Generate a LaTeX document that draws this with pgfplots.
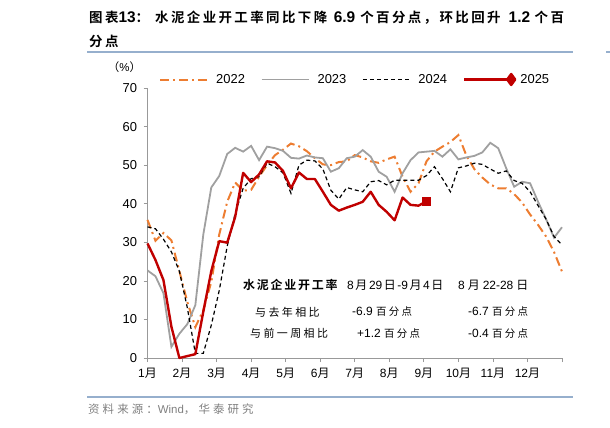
\documentclass[border=0pt]{standalone}
\usepackage{fontspec}
\setmainfont{Liberation Sans}
\newfontfamily\cjk{Noto Sans CJK SC}[LetterSpace=15,BoldFont={Noto Sans CJK SC Bold}]
\newfontfamily\cjkt{Noto Sans CJK SC}[LetterSpace=18,BoldFont={Noto Sans CJK SC Bold}]
\newfontfamily\cjkw{Noto Sans CJK SC}[LetterSpace=22,BoldFont={Noto Sans CJK SC Bold}]
\newfontfamily\cjks{Noto Sans CJK SC}[LetterSpace=27]
\newcommand\C[1]{{\cjk #1}}
\newcommand\T[1]{{\cjkt #1}}
\newcommand\W[1]{{\cjkw #1}}
\newcommand\TL[1]{{\fontsize{15.5}{18}\selectfont\bfseries #1}}
\usepackage{pgfplots}
\pgfplotsset{compat=1.18}
\definecolor{cOra}{RGB}{237,125,49}
\definecolor{cGry}{RGB}{160,160,160}
\definecolor{cRed}{RGB}{192,0,0}
\definecolor{cRule}{RGB}{150,175,205}
\definecolor{cSrc}{RGB}{128,128,128}
\pgfplotsset{redleg/.style={legend image code/.code={\draw[##1] (0bp,0bp) -- (47bp,0bp);
    \fill[cRed] (47bp,5.5bp) -- (51bp,0bp) -- (47bp,-5.5bp) -- (43bp,0bp) -- cycle;
    \path (53bp,0bp);}}}

\pgfplotstableread{
w v
0 35.8
1 30.4
2 32.4
3 30.5
4 22.5
5 14.5
6 8.0
7 12.4
8 19.7
9 32.0
10 40.5
11 45.5
12 43.4
13 43.6
14 47.0
15 50.0
16 52.6
17 54.0
18 55.6
19 54.9
20 53.6
21 51.8
22 50.2
23 50.0
24 50.8
25 51.0
26 52.6
27 52.0
28 51.0
29 50.6
30 51.5
31 52.2
32 47.0
33 43.1
34 45.3
35 51.0
36 53.5
37 54.8
38 56.0
39 57.8
40 52.5
41 49.0
42 46.8
43 45.0
44 44.0
45 44.0
46 42.5
47 40.3
48 37.2
49 34.5
50 31.5
51 27.5
52 22.4
}\dataA

\pgfplotstableread{
w v
0 22.7
1 21.2
2 16.8
3 2.9
4 6.3
5 8.8
6 13.7
7 32.0
8 44.2
9 47.2
10 52.9
11 54.5
12 53.5
13 55.0
14 51.3
15 54.8
16 54.4
17 53.7
18 51.9
19 51.7
20 52.5
21 52.0
22 51.8
23 48.3
24 49.2
25 51.8
26 52.2
27 53.9
28 52.2
29 48.3
30 47.0
31 43.1
32 47.9
33 51.3
34 53.3
35 53.5
36 53.7
37 52.2
38 54.1
39 51.5
40 52.0
41 52.4
42 53.3
43 55.8
44 54.4
45 49.2
46 44.4
47 45.7
48 45.3
49 40.5
50 36.0
51 31.2
52 33.9
}\dataB

\pgfplotstableread{
w v
0 34.0
1 33.5
2 30.8
3 27.5
4 22.5
5 13.0
6 1.2
7 1.2
8 8.5
9 17.5
10 29.0
11 37.5
12 44.0
13 46.5
14 47.0
15 50.5
16 49.6
17 48.0
18 42.7
19 50.0
20 51.3
21 51.1
22 49.0
23 43.5
24 41.2
25 44.2
26 43.6
27 43.1
28 45.7
29 46.0
30 44.9
31 46.1
32 46.1
33 46.1
34 46.1
35 47.3
36 49.6
37 46.5
38 43.1
39 49.3
40 49.8
41 50.5
42 50.2
43 49.0
44 47.9
45 48.5
46 46.0
47 45.3
48 43.1
49 39.5
50 36.0
51 31.5
52 29.3
}\dataC

\pgfplotstableread{
w v
0 29.7
1 25.4
2 20.2
3 8.1
4 0.0
5 0.5
6 1.0
7 12.0
8 22.5
9 30.3
10 29.9
11 36.6
12 48.0
13 45.6
14 47.6
15 51.0
16 50.7
17 48.5
18 44.0
19 48.1
20 46.4
21 46.4
22 43.1
23 39.7
24 38.2
25 39.0
26 39.7
27 40.5
28 43.1
29 39.7
30 37.9
31 35.7
32 41.6
33 39.7
34 39.5
35 40.6
}\dataD

\begin{document}
\begin{tikzpicture}[x=1bp,y=1bp]
\useasboundingbox (0,0) rectangle (610,427);
% title
\node[anchor=base west, inner sep=0, font=\fontsize{13.5}{16}\selectfont\bfseries] at (89,404.5)
  {\T{图表}\TL{13}\T{：}\hspace{6bp}\T{水泥企业开工率同比下降}\hspace{6.5bp}\TL{6.9}\hspace{5bp}\T{个百分点，环比回升}\hspace{8bp}\TL{1.2}\hspace{4.5bp}\T{个百}};
\node[anchor=base west, inner sep=0, font=\fontsize{13.5}{16}\selectfont\bfseries] at (89,380.5) {\T{分点}};
\draw[cRule, line width=1.5bp] (87,375) -- (573,375);
\draw[cRule, line width=1.5bp] (606,375) -- (610,375);
\draw[cRule, line width=1.5bp] (87,30) -- (573,30);
% unit
\node[anchor=center, inner sep=0, font=\fontsize{11.5}{14}\selectfont] at (124.5,360) {\C{（}\%\C{）}};
% source
\node[anchor=west, inner sep=0, font=\fontsize{11.5}{13}\selectfont, text=cSrc] at (88,18) {{\cjks 资料来源：}Wind{\cjks ，华泰研究}};

\begin{axis}[
  at={(147.5bp,69bp)}, anchor=south west,
  scale only axis, width=414.5bp, height=270bp,
  xmin=0, xmax=52, ymin=0, ymax=70,
  axis x line*=bottom, axis y line*=left,
  axis line style={draw=gray!80, line width=0.7bp, -},
  tick style={draw=gray!80, line width=0.7bp},
  tick align=outside, major tick length=4bp,
  ytick={0,10,...,70},
  xtick={0,4.3333,8.6667,13,17.3333,21.6667,26,30.3333,34.6667,39,43.3333,47.6667,52},
  xticklabels={1\C{月},2\C{月},3\C{月},4\C{月},5\C{月},6\C{月},7\C{月},8\C{月},9\C{月},10\C{月},11\C{月},12\C{月},{}},
  /pgf/number format/assume math mode=true,
  xticklabel style={font=\fontsize{12}{14}\selectfont, text=black, yshift=-3bp},
  yticklabel style={font=\fontsize{13}{15}\selectfont, text=black, xshift=-3bp},
  clip=false,
  legend columns=4,
  legend style={at={(0.0277,1.0315)}, anchor=west, draw=none, fill=none, inner sep=0pt,
    font=\fontsize{13}{15}\selectfont,
    /tikz/every even column/.append style={column sep=13.8bp}},
  legend image code/.code={\draw[#1] (0bp,0bp) -- (47bp,0bp); \path (53bp,0bp);},
]
\addplot[cOra, line width=2bp, dash pattern=on 9bp off 4bp on 2bp off 4bp] table[x=w,y=v] {\dataA};
\addlegendentry{2022}
\addplot[cGry, line width=1.8bp] table[x=w,y=v] {\dataB};
\addlegendentry{2023}
\addplot[black, line width=1.2bp, dash pattern=on 4bp off 3bp] table[x=w,y=v] {\dataC};
\addlegendentry{2024}
\addplot[cRed, line width=2.4bp, line join=round, redleg] table[x=w,y=v] {\dataD};
\addlegendentry{2025}
\addplot[only marks, mark=square*, mark size=3.8bp, cRed, forget plot] coordinates {(35,40.6)};
\end{axis}
\begin{scope}[every node/.style={inner sep=0, anchor=west}]
\node[font=\fontsize{12}{14}\selectfont\bfseries] at (243,142) {\C{水泥企业开工率}};
\node[font=\fontsize{12}{14}\selectfont] at (347,142) {8\hspace{1.6bp}\C{月}\hspace{1.6bp}29\hspace{1.6bp}\C{日}\hspace{1.6bp}-9\hspace{1.6bp}\C{月}\hspace{1.6bp}4\hspace{1.6bp}\C{日}};
\node[font=\fontsize{12}{14}\selectfont] at (458,142) {8\hspace{3bp}\C{月}\hspace{3bp}22-28\hspace{3bp}\C{日}};
\node[font=\fontsize{11}{14}\selectfont] at (255,115) {\W{与去年相比}};
\node[font=\fontsize{12}{14}\selectfont] at (352,115) {-6.9 \W{\fontsize{10.5}{12}\selectfont 百分点}};
\node[font=\fontsize{12}{14}\selectfont] at (468,115) {-6.7 \W{\fontsize{10.5}{12}\selectfont 百分点}};
\node[font=\fontsize{11}{14}\selectfont] at (250,93.5) {\W{与前一周相比}};
\node[font=\fontsize{12}{14}\selectfont] at (357,93.5) {+1.2 \W{\fontsize{10.5}{12}\selectfont 百分点}};
\node[font=\fontsize{12}{14}\selectfont] at (468,93.5) {-0.4 \W{\fontsize{10.5}{12}\selectfont 百分点}};
\end{scope}
\end{tikzpicture}
\end{document}
